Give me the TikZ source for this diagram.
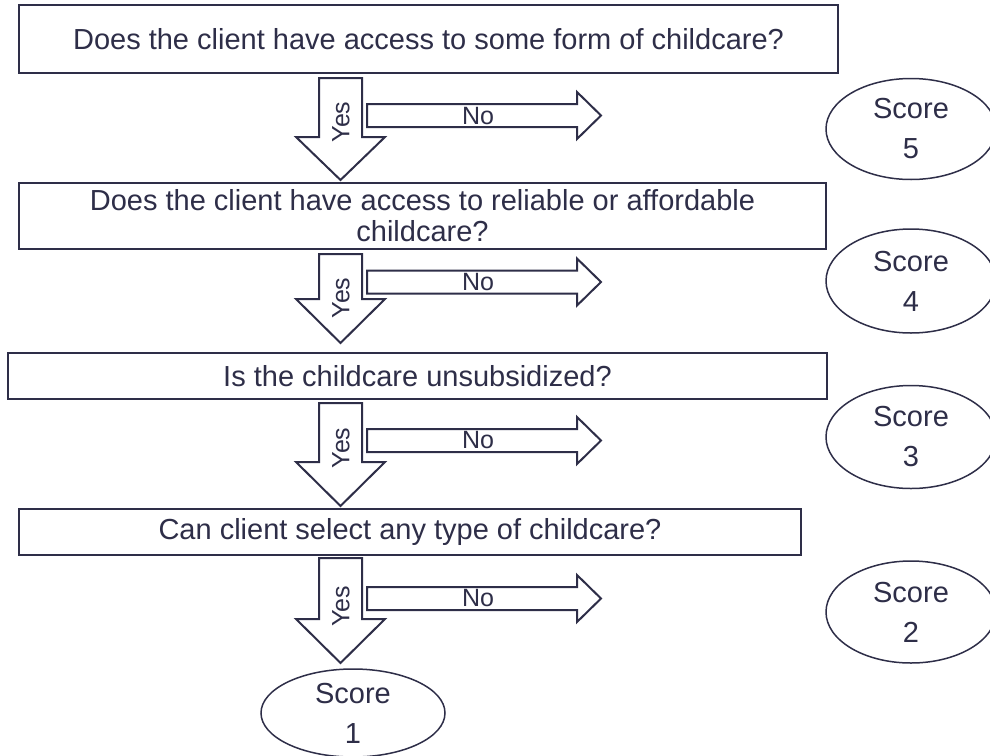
\documentclass[tikz,border=0pt]{standalone}
\usepackage{fontspec}
\setmainfont{Liberation Sans}
\usetikzlibrary{shapes.geometric}
\definecolor{ink}{RGB}{46,46,72}
\begin{document}
\begin{tikzpicture}[x=1pt,y=-1pt,
  question/.style={draw=ink, line width=2.2pt, fill=white, inner sep=0pt,
    text=ink, font=\fontsize{29}{31}\selectfont, align=center},
  scorebox/.style={ellipse, draw=ink, line width=1.5pt, fill=white, inner sep=0pt,
    minimum width=170pt, minimum height=102pt, text=ink,
    font=\fontsize{29}{40}\selectfont, align=center},
  blk/.style={draw=ink, line width=2pt, fill=white, line join=miter},
  lbl/.style={text=ink, font=\fontsize{25}{25}\selectfont, inner sep=0pt}]
\useasboundingbox (0,0) rectangle (990,755);

% question boxes
\node[question, minimum width=819pt, minimum height=68pt] (q1) at (428.5,39)
  {Does the client have access to some form of childcare?};
\node[question, minimum width=807pt, minimum height=66pt] (q2) at (422.5,216)
  {Does the client have access to reliable or affordable\\childcare?};
\node[question, minimum width=819pt, minimum height=46pt] (q3) at (417.5,376)
  {Is the childcare unsubsidized?};
\node[question, minimum width=782pt, minimum height=46pt] (q4) at (410,532)
  {Can client select any type of childcare?};

% score ellipses
\node[scorebox, minimum height=101pt] (s5) at (911,129) {Score\\5};
\node[scorebox, minimum height=104pt] (s4) at (911,281) {Score\\4};
\node[scorebox, minimum height=103pt] (s3) at (911,437) {Score\\3};
\node[scorebox, minimum height=102pt] (s2) at (911,612) {Score\\2};
\node[scorebox, minimum width=184pt, minimum height=88pt] (s1) at (353,713) {Score\\1};

% "Yes" block arrows (top centre of each shaft)
\coordinate (d1) at (340.5,78);
\coordinate (d2) at (340.5,254);
\coordinate (d3) at (340.5,403);
\coordinate (d4) at (340.5,558);
\draw[blk] (d1) ++(-21.5,0) -- ++(43,0) -- ++(0,59) -- ++(23,0) -- ++(-44.5,43)
  -- ++(-44.5,-43) -- ++(23,0) -- cycle;
\draw[blk] (d2) ++(-21.5,0) -- ++(43,0) -- ++(0,45) -- ++(23,0) -- ++(-44.5,44)
  -- ++(-44.5,-44) -- ++(23,0) -- cycle;
\draw[blk] (d3) ++(-21.5,0) -- ++(43,0) -- ++(0,59) -- ++(23,0) -- ++(-44.5,44)
  -- ++(-44.5,-44) -- ++(23,0) -- cycle;
\draw[blk] (d4) ++(-21.5,0) -- ++(43,0) -- ++(0,61) -- ++(23,0) -- ++(-44.5,44)
  -- ++(-44.5,-44) -- ++(23,0) -- cycle;

% "No" block arrows (left end of each shaft, on its axis)
\coordinate (r1) at (367,115.5);
\coordinate (r2) at (367,282);
\coordinate (r3) at (367,440.5);
\coordinate (r4) at (367,598.5);
\foreach \r in {r1,r2,r3,r4}{
  \draw[blk] (\r) ++(0,-11.5) -- ++(210,0) -- ++(0,-12) -- ++(24,23.5)
    -- ++(-24,23.5) -- ++(0,-12) -- ++(-210,0) -- cycle;
}

% arrow labels
\node[lbl, rotate=90] (y1) at (341,122) {Yes};
\node[lbl, rotate=90] (y2) at (341,298) {Yes};
\node[lbl, rotate=90] (y3) at (341,448) {Yes};
\node[lbl, rotate=90] (y4) at (341,606) {Yes};
\node[lbl] (n1) at (478,116) {No};
\node[lbl] (n2) at (478,282) {No};
\node[lbl] (n3) at (478,440.5) {No};
\node[lbl] (n4) at (478,598.5) {No};
\end{tikzpicture}
\end{document}
